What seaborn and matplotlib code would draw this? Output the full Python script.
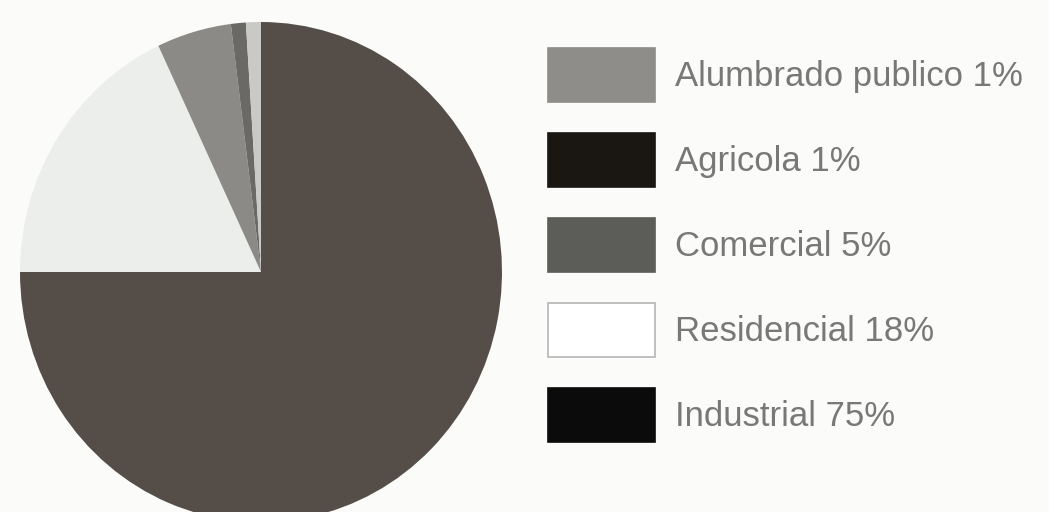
import matplotlib
matplotlib.use("Agg")
import matplotlib.pyplot as plt
from matplotlib.patches import Patch
import seaborn as sns

# Consumo de energía por sector (%)
sectores = ["Industrial", "Residencial", "Comercial", "Agricola", "Alumbrado publico"]
porcentajes = [75, 18, 5, 1, 1]
colores_pie = ["#554e48", "#eceeec", "#8c8a87", "#6b6966", "#c9c9c6"]
colores_leyenda = ["#0b0b0b", "#ffffff", "#5c5d58", "#1a1712", "#8f8d89"]
bordes_leyenda = ["#0b0b0b", "#b5b5b5", "#5c5d58", "#1a1712", "#8f8d89"]

sns.set_theme(style="white")
plt.rcParams["font.family"] = ["Liberation Sans", "DejaVu Sans"]

W, H = 1049, 512
fig = plt.figure(figsize=(W / 100, H / 100), dpi=100)
fig.patch.set_facecolor("#fbfbfa")

# Pie placed in pixel space: x from 20 to 502, y from 22 to 522 (top-down)
ax = fig.add_axes([20 / W, (H - 522) / H, 482 / W, 500 / H])
ax.pie(porcentajes, colors=colores_pie, startangle=90, counterclock=False,
       wedgeprops=dict(linewidth=0))
ax.set_aspect("auto")
ax.set_xlim(-1, 1)
ax.set_ylim(-1, 1)
ax.axis("off")

# Legend listed from smallest to largest sector
handles = []
labels = []
for nombre, pct, fc, ec in zip(sectores[::-1], porcentajes[::-1],
                               colores_leyenda[::-1], bordes_leyenda[::-1]):
    handles.append(Patch(facecolor=fc, edgecolor=ec, linewidth=1.2))
    labels.append(f"{nombre} {pct}%")

fs = 25
fs_px = fs * 100 / 72
box_h = 54 / fs_px
leg = fig.legend(handles, labels, loc="upper left",
                 bbox_to_anchor=(548 / W, 1 - 48 / H),
                 frameon=False, fontsize=fs, borderpad=0, borderaxespad=0,
                 handlelength=107 / fs_px,
                 handleheight=(box_h - 0.245) / 0.65,
                 handletextpad=20 / fs_px, labelspacing=31 / fs_px,
                 labelcolor="#787878")

fig.savefig("out.png", dpi=100, facecolor=fig.get_facecolor())
